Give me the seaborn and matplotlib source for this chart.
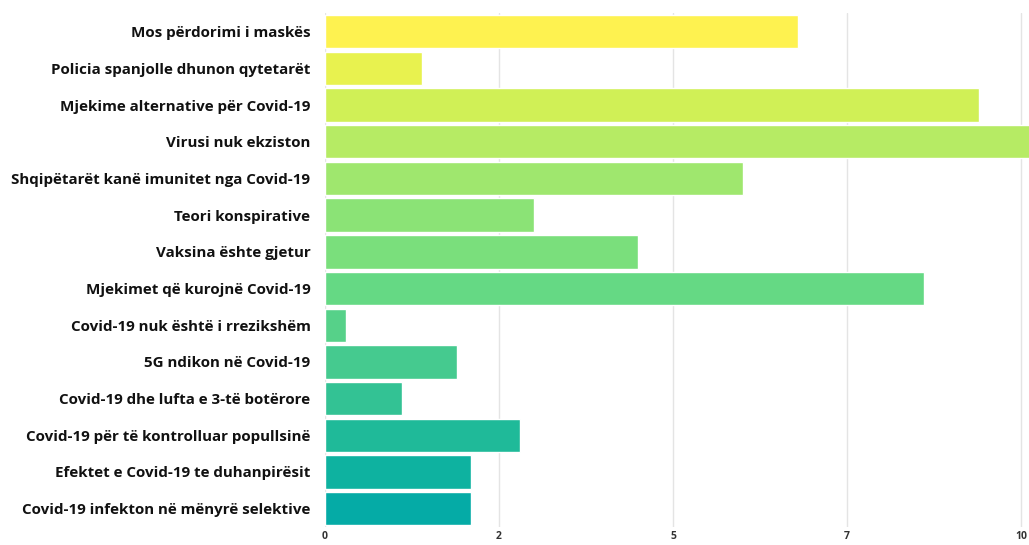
import matplotlib
matplotlib.use("Agg")
import matplotlib.pyplot as plt
import seaborn as sns
import pandas as pd

categories = [
    "Mos përdorimi i maskës",
    "Policia spanjolle dhunon qytetarët",
    "Mjekime alternative për Covid-19",
    "Virusi nuk ekziston",
    "Shqipëtarët kanë imunitet nga Covid-19",
    "Teori konspirative",
    "Vaksina ështe gjetur",
    "Mjekimet që kurojnë Covid-19",
    "Covid-19 nuk është i rrezikshëm",
    "5G ndikon në Covid-19",
    "Covid-19 dhe lufta e 3-të botërore",
    "Covid-19 për të kontrolluar popullsinë",
    "Efektet e Covid-19 te duhanpirësit",
    "Covid-19 infekton në mënyrë selektive",
]
values = [6.8, 1.4, 9.4, 10.2, 6.0, 3.0, 4.5, 8.6, 0.3, 1.9, 1.1, 2.8, 2.1, 2.1]
tick_values = [0, 2.5, 5, 7.5, 10]
tick_labels = ["0", "2", "5", "7", "10"]

colors = ["#FEF250", "#E8F24F", "#D0F056", "#B6EB64", "#9FE76E", "#8BE376", "#7ADF7C",
          "#65D984", "#56D189", "#45CA8F", "#33C294", "#1FBA99", "#0EB2A0", "#05ABA6"]

df = pd.DataFrame({"cat": categories, "val": values})

sns.set_theme(style="white")
plt.rcParams['font.family'] = ['Open Sans', 'DejaVu Sans']

fig = plt.figure(figsize=(10.29, 5.45), dpi=100)
ax = fig.add_axes([325/1029, 1 - 527/545, 1 - 325/1029, (527 - 13.4)/545])

sns.barplot(data=df, x="val", y="cat", hue="cat", palette=colors, legend=False,
            width=0.91, ax=ax, zorder=2, saturation=1)

ax.set_xlim(0, 704/69.6)
ax.set_xticks(tick_values)
ax.set_xticklabels(tick_labels, fontsize=7.5, fontweight="bold", color="#333333")
ax.xaxis.grid(True, color="#e4e4e4", linewidth=1, zorder=0)
ax.set_axisbelow(True)
ax.set_xlabel("")
ax.set_ylabel("")
for s in ax.spines.values():
    s.set_visible(False)
ax.tick_params(axis="y", length=0, pad=10.5, labelsize=10.9)
ax.tick_params(axis="x", length=0, pad=3)
for lbl in ax.get_yticklabels():
    lbl.set_fontweight("bold")
    lbl.set_color("#111111")

fig.savefig("out.png", dpi=100)
